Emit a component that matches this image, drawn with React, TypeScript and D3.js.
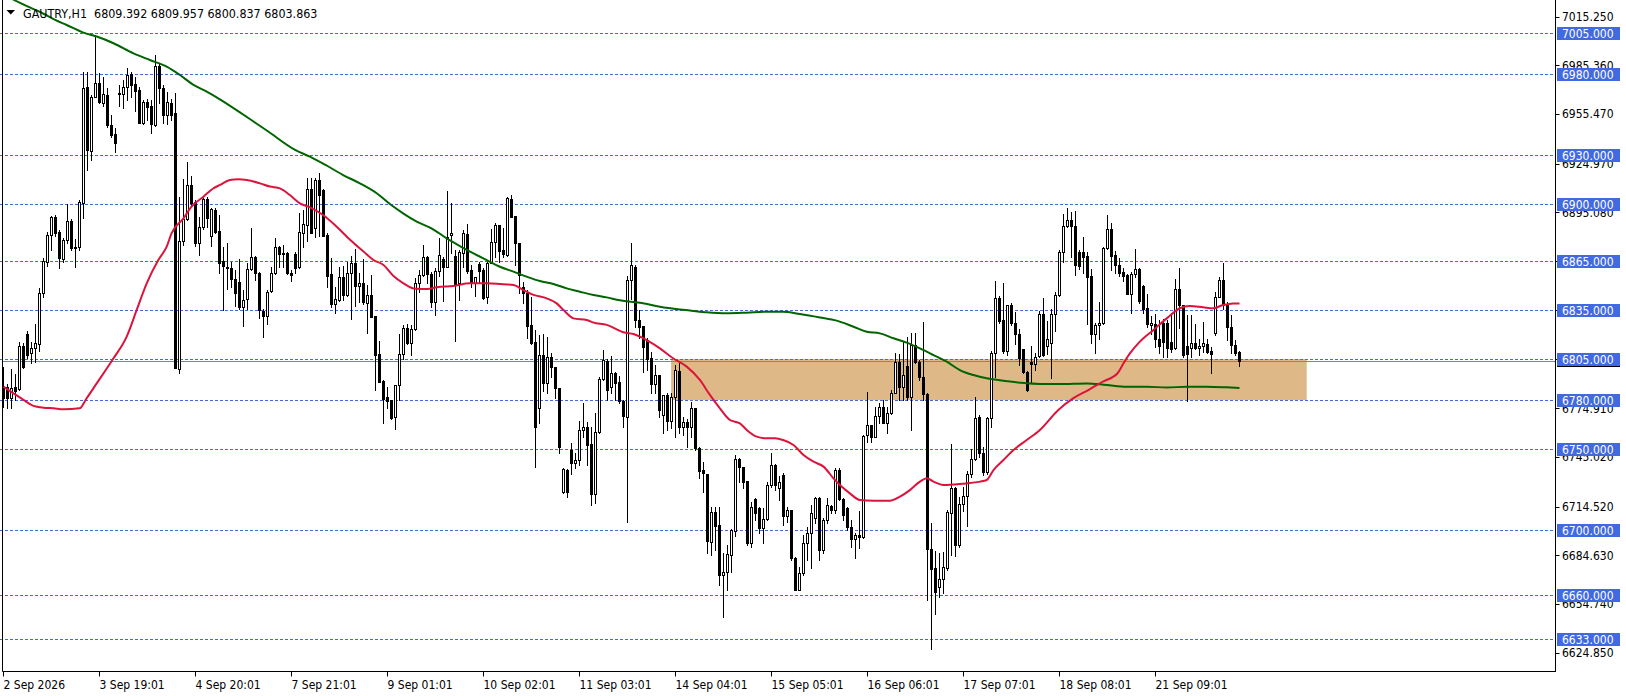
import React from 'react';
import * as d3 from 'd3';

// ---------- header ----------
const symbolTitle = 'GAUTRY,H1';
const headerValues = ['6809.392', '6809.957', '6800.837', '6803.863'];

// ---------- candles (H1) ----------
const openP = [
  6788.1, 6788.0, 6781.0, 6788.0, 6786.5, 6813.0, 6820.4, 6808.6, 6811.6, 6814.3,
  6845.8, 6864.8, 6881.2, 6892.5, 6883.0, 6866.3, 6878.1, 6889.6, 6874.0, 6873.6,
  6901.1, 6972.3, 6933.0, 6966.1, 6974.7, 6962.4, 6967.1, 6948.7, 6943.2, 6968.6,
  6967.8, 6972.3, 6980.0, 6973.9, 6970.2, 6950.2, 6963.1, 6960.4, 6948.7, 6985.0,
  6971.2, 6954.9, 6962.0, 6955.9, 6798.7, 6877.5, 6890.8, 6911.9, 6901.7, 6876.1,
  6885.9, 6903.1, 6880.6, 6896.5, 6883.8, 6865.0, 6861.4, 6860.7, 6854.0, 6852.3,
  6836.8, 6841.7, 6860.1, 6867.9, 6858.1, 6834.5, 6831.5, 6846.6, 6857.6, 6873.6,
  6869.3, 6870.3, 6858.1, 6869.5, 6861.3, 6882.2, 6887.3, 6909.2, 6885.3, 6914.9,
  6908.8, 6881.2, 6857.2, 6838.8, 6841.3, 6855.2, 6844.4, 6858.1, 6864.2, 6849.9,
  6851.5, 6839.6, 6844.4, 6831.5, 6808.1, 6791.7, 6781.5, 6779.9, 6769.2, 6789.1,
  6808.1, 6823.9, 6814.7, 6823.3, 6851.5, 6856.6, 6867.9, 6857.2, 6840.3, 6859.3,
  6866.2, 6861.8, 6881.2, 6868.3, 6851.5, 6869.9, 6881.8, 6859.7, 6851.5, 6863.4,
  6859.7, 6842.9, 6864.2, 6877.1, 6887.3, 6872.0, 6868.9, 6903.1, 6892.8, 6876.5,
  6849.1, 6845.8, 6826.0, 6815.7, 6774.8, 6807.5, 6790.1, 6806.5, 6799.9, 6787.1,
  6723.6, 6736.9, 6749.2, 6741.4, 6743.1, 6761.5, 6763.1, 6752.9, 6722.2, 6760.4,
  6792.6, 6804.0, 6788.1, 6796.7, 6791.1, 6779.5, 6769.7, 6853.6, 6861.7, 6829.0,
  6825.3, 6816.7, 6805.5, 6789.7, 6795.2, 6770.7, 6783.0, 6767.2, 6781.5, 6797.9,
  6763.5, 6766.6, 6763.1, 6774.8, 6750.2, 6736.9, 6734.5, 6693.0, 6711.3, 6703.1,
  6672.4, 6674.5, 6684.7, 6699.7, 6743.5, 6738.9, 6730.4, 6692.3, 6718.9, 6713.4,
  6701.1, 6706.8, 6727.7, 6740.0, 6725.7, 6733.8, 6708.7, 6712.4, 6682.7, 6663.3,
  6673.5, 6692.3, 6698.0, 6707.2, 6719.5, 6687.8, 6706.2, 6714.8, 6712.4, 6736.9,
  6718.9, 6713.4, 6702.1, 6694.4, 6697.0, 6695.6, 6758.4, 6764.5, 6757.4, 6770.1,
  6775.8, 6766.0, 6771.7, 6784.4, 6803.4, 6788.1, 6800.8, 6781.5, 6813.7, 6803.4,
  6793.8, 6783.6, 6688.2, 6676.6, 6665.3, 6669.8, 6676.6, 6710.3, 6725.7, 6690.9,
  6716.1, 6721.0, 6734.5, 6743.5, 6769.3, 6747.6, 6735.9, 6768.6, 6808.9, 6842.3,
  6829.0, 6810.2, 6838.2, 6827.0, 6820.4, 6811.0, 6797.3, 6803.4, 6802.0, 6806.9,
  6832.7, 6813.0, 6815.1, 6832.7, 6844.3, 6871.0, 6886.7, 6890.4, 6886.7, 6870.9,
  6870.9, 6868.3, 6856.0, 6820.4, 6826.0, 6827.0, 6873.0, 6884.7, 6868.9, 6862.7,
  6858.7, 6856.6, 6845.0, 6857.2, 6860.1, 6849.9, 6836.2, 6826.0, 6826.5, 6817.1,
  6827.0, 6827.0, 6815.7, 6811.6, 6847.8, 6838.2, 6813.0, 6811.6, 6814.7, 6811.6,
  6813.0, 6814.3, 6810.2, 6820.8, 6842.9, 6853.6, 6838.2, 6824.5, 6813.6, 6809.392,
];
const highP = [
  6800.4, 6790.0, 6799.0, 6796.0, 6815.7, 6815.0, 6822.5, 6815.7, 6826.6, 6848.5,
  6866.9, 6882.8, 6892.9, 6893.5, 6884.3, 6879.2, 6900.0, 6890.8, 6878.5, 6902.7,
  6981.0, 6981.0, 6967.1, 7004.0, 6980.4, 6978.4, 6971.2, 6954.9, 6946.7, 6973.3,
  6976.4, 6983.5, 6981.5, 6978.0, 6972.3, 6964.1, 6964.5, 6964.1, 6991.7, 6987.0,
  6973.3, 6969.2, 6964.5, 6968.6, 6904.7, 6915.4, 6926.2, 6917.4, 6902.7, 6892.5,
  6904.7, 6904.7, 6897.6, 6897.6, 6893.5, 6874.0, 6876.5, 6864.8, 6859.7, 6866.2,
  6847.4, 6863.8, 6885.3, 6868.3, 6858.7, 6835.5, 6847.4, 6861.7, 6879.1, 6874.4,
  6875.0, 6870.9, 6859.7, 6870.9, 6894.5, 6896.5, 6916.0, 6916.0, 6916.0, 6919.4,
  6909.2, 6882.2, 6866.9, 6849.5, 6861.7, 6862.2, 6864.8, 6868.3, 6872.4, 6858.1,
  6866.2, 6850.5, 6856.6, 6831.5, 6816.3, 6792.1, 6788.1, 6779.9, 6789.1, 6820.4,
  6825.9, 6826.5, 6825.9, 6854.6, 6859.7, 6875.0, 6868.3, 6858.7, 6860.7, 6879.1,
  6867.5, 6908.4, 6900.6, 6872.0, 6872.0, 6884.3, 6887.9, 6862.8, 6855.6, 6864.8,
  6860.7, 6864.8, 6884.7, 6888.8, 6887.3, 6885.3, 6904.3, 6905.7, 6892.8, 6876.5,
  6852.5, 6847.4, 6843.3, 6822.9, 6819.8, 6820.4, 6818.8, 6808.9, 6800.4, 6787.1,
  6737.9, 6737.3, 6753.3, 6747.5, 6767.2, 6777.8, 6766.6, 6763.5, 6771.7, 6793.8,
  6810.6, 6804.9, 6806.9, 6797.3, 6794.6, 6779.9, 6856.0, 6876.5, 6862.8, 6835.1,
  6825.3, 6817.7, 6809.6, 6801.4, 6795.2, 6783.0, 6784.0, 6784.0, 6801.4, 6803.4,
  6769.7, 6768.0, 6778.9, 6774.8, 6751.2, 6742.0, 6734.5, 6714.0, 6714.4, 6714.4,
  6685.8, 6690.9, 6700.5, 6746.1, 6744.1, 6738.9, 6730.4, 6717.5, 6719.5, 6714.4,
  6713.4, 6729.8, 6747.6, 6740.6, 6733.2, 6734.9, 6714.4, 6712.4, 6683.7, 6677.6,
  6697.0, 6702.1, 6715.4, 6720.1, 6720.1, 6707.2, 6719.5, 6715.4, 6737.9, 6737.9,
  6719.5, 6714.4, 6706.2, 6698.0, 6711.9, 6758.4, 6785.0, 6764.5, 6775.8, 6777.8,
  6779.9, 6775.8, 6786.0, 6808.5, 6808.1, 6815.7, 6818.8, 6820.8, 6820.8, 6804.4,
  6828.0, 6784.0, 6704.2, 6687.4, 6685.8, 6686.8, 6712.4, 6752.9, 6726.3, 6720.6,
  6726.7, 6736.5, 6749.6, 6781.9, 6770.7, 6751.2, 6769.7, 6810.0, 6853.1, 6843.7,
  6851.5, 6838.2, 6839.2, 6834.1, 6823.3, 6811.0, 6797.9, 6813.0, 6809.0, 6834.7,
  6842.3, 6828.6, 6835.6, 6846.4, 6872.0, 6894.1, 6897.6, 6895.5, 6896.1, 6872.0,
  6880.2, 6871.0, 6860.1, 6827.0, 6840.3, 6874.0, 6893.5, 6888.7, 6871.6, 6866.9,
  6860.7, 6857.2, 6858.7, 6872.4, 6860.7, 6850.5, 6845.0, 6831.5, 6832.7, 6829.0,
  6829.4, 6829.0, 6832.1, 6854.0, 6860.7, 6838.2, 6832.1, 6832.1, 6826.5, 6817.1,
  6828.0, 6817.1, 6812.6, 6846.4, 6855.2, 6864.2, 6840.0, 6832.1, 6816.7, 6809.957,
];
const lowP = [
  6775.8, 6775.0, 6775.0, 6780.0, 6786.0, 6799.4, 6805.5, 6802.8, 6803.4, 6810.0,
  6843.3, 6862.2, 6872.0, 6880.6, 6860.7, 6864.8, 6876.5, 6872.0, 6861.8, 6872.0,
  6891.4, 6921.1, 6927.2, 6965.7, 6962.4, 6960.4, 6947.7, 6941.6, 6932.4, 6960.4,
  6959.0, 6964.1, 6965.7, 6957.5, 6950.2, 6949.3, 6951.8, 6944.0, 6948.1, 6962.4,
  6949.8, 6949.3, 6951.8, 6799.4, 6796.7, 6875.1, 6890.5, 6899.5, 6874.5, 6868.9,
  6884.7, 6886.3, 6874.5, 6882.2, 6858.1, 6835.1, 6847.8, 6849.5, 6837.6, 6835.6,
  6825.3, 6835.6, 6859.7, 6853.6, 6830.0, 6818.8, 6826.6, 6846.4, 6857.2, 6861.7,
  6861.7, 6857.2, 6853.1, 6857.6, 6860.7, 6873.6, 6877.7, 6882.2, 6879.7, 6880.6,
  6880.6, 6849.1, 6837.2, 6833.5, 6840.9, 6841.3, 6843.8, 6829.4, 6837.6, 6840.3,
  6838.8, 6820.8, 6830.6, 6786.0, 6791.1, 6766.0, 6774.8, 6768.0, 6761.9, 6779.9,
  6804.9, 6814.3, 6807.5, 6822.9, 6846.4, 6856.0, 6851.5, 6837.2, 6832.1, 6856.0,
  6840.9, 6861.3, 6869.9, 6816.3, 6841.3, 6861.7, 6857.6, 6849.5, 6843.8, 6852.5,
  6841.7, 6839.2, 6863.8, 6867.9, 6864.8, 6867.5, 6868.3, 6892.4, 6862.8, 6845.4,
  6839.2, 6817.7, 6814.3, 6738.9, 6766.0, 6785.6, 6784.0, 6793.8, 6780.9, 6747.5,
  6723.0, 6720.6, 6734.5, 6737.9, 6740.0, 6757.4, 6740.0, 6715.4, 6716.5, 6759.4,
  6792.2, 6779.9, 6784.4, 6779.9, 6777.8, 6763.5, 6705.2, 6841.7, 6824.9, 6817.7,
  6797.3, 6798.3, 6784.0, 6784.0, 6769.7, 6759.4, 6761.5, 6762.5, 6757.0, 6759.8,
  6758.4, 6751.2, 6757.4, 6749.2, 6731.8, 6723.6, 6685.8, 6684.7, 6687.8, 6666.3,
  6646.9, 6663.3, 6674.5, 6696.4, 6729.8, 6725.7, 6690.9, 6689.9, 6706.2, 6698.0,
  6691.9, 6706.2, 6726.7, 6724.6, 6718.5, 6703.1, 6705.2, 6681.7, 6663.3, 6663.3,
  6672.4, 6681.7, 6676.6, 6704.2, 6681.7, 6685.8, 6704.2, 6710.3, 6710.3, 6718.5,
  6706.2, 6700.1, 6689.9, 6682.7, 6688.8, 6695.0, 6754.3, 6754.3, 6757.0, 6765.6,
  6766.0, 6759.8, 6771.3, 6784.0, 6779.9, 6779.9, 6779.9, 6761.5, 6802.4, 6792.2,
  6779.9, 6657.1, 6626.8, 6648.5, 6659.2, 6661.2, 6675.5, 6684.7, 6684.1, 6689.9,
  6712.0, 6702.5, 6732.4, 6743.1, 6745.1, 6733.9, 6734.5, 6763.1, 6794.2, 6827.0,
  6808.5, 6807.5, 6825.9, 6814.3, 6801.4, 6796.7, 6785.6, 6790.1, 6798.3, 6806.5,
  6806.9, 6808.1, 6793.2, 6822.5, 6843.7, 6864.8, 6886.3, 6867.9, 6856.6, 6860.1,
  6858.1, 6826.5, 6814.7, 6808.9, 6817.1, 6826.5, 6872.4, 6859.7, 6857.6, 6856.0,
  6853.1, 6845.0, 6833.1, 6855.2, 6839.2, 6833.5, 6824.9, 6820.4, 6812.2, 6808.9,
  6806.5, 6806.1, 6809.6, 6811.0, 6824.0, 6806.5, 6779.0, 6806.5, 6811.0, 6807.5,
  6809.6, 6809.0, 6796.7, 6819.8, 6842.9, 6836.0, 6816.7, 6808.5, 6807.5, 6800.837,
];
const closeP = [
  6780.9, 6781.0, 6787.5, 6785.6, 6813.0, 6800.4, 6807.5, 6811.6, 6814.7, 6845.8,
  6865.4, 6881.2, 6892.5, 6882.2, 6866.9, 6878.1, 6889.6, 6873.2, 6873.2, 6901.7,
  6971.6, 6933.4, 6965.7, 6974.3, 6963.1, 6967.8, 6948.7, 6942.6, 6937.5, 6967.8,
  6971.9, 6979.4, 6973.3, 6969.8, 6950.2, 6963.1, 6960.0, 6949.3, 6985.0, 6971.2,
  6954.9, 6963.1, 6954.9, 6799.4, 6877.5, 6890.8, 6911.9, 6901.1, 6876.1, 6885.9,
  6903.1, 6891.4, 6897.0, 6883.2, 6863.8, 6862.0, 6861.0, 6854.0, 6845.8, 6837.2,
  6841.3, 6860.3, 6867.9, 6857.6, 6835.1, 6831.5, 6846.4, 6857.6, 6874.0, 6869.5,
  6870.3, 6858.1, 6856.4, 6860.7, 6883.2, 6887.9, 6909.2, 6882.6, 6914.9, 6905.7,
  6880.6, 6856.0, 6838.8, 6841.7, 6855.2, 6844.4, 6858.1, 6864.2, 6849.9, 6851.5,
  6840.3, 6844.4, 6831.0, 6807.5, 6791.1, 6780.3, 6779.5, 6768.6, 6789.1, 6808.1,
  6823.9, 6814.7, 6823.3, 6851.5, 6856.6, 6867.9, 6857.2, 6840.3, 6859.3, 6868.9,
  6861.8, 6880.2, 6882.6, 6850.5, 6870.9, 6882.2, 6859.3, 6851.5, 6855.2, 6859.3,
  6842.3, 6863.8, 6877.1, 6887.3, 6871.6, 6869.5, 6903.7, 6892.4, 6876.1, 6856.6,
  6845.8, 6825.3, 6815.1, 6763.5, 6807.5, 6790.1, 6806.5, 6799.9, 6787.1, 6751.2,
  6737.3, 6723.6, 6741.4, 6743.1, 6761.5, 6763.5, 6752.3, 6722.2, 6760.4, 6792.6,
  6804.4, 6786.0, 6796.3, 6790.1, 6779.5, 6770.1, 6853.6, 6862.8, 6829.0, 6824.9,
  6812.2, 6804.9, 6789.7, 6795.2, 6773.8, 6783.0, 6767.2, 6781.9, 6798.3, 6763.5,
  6766.6, 6763.1, 6774.8, 6750.2, 6736.5, 6734.9, 6693.5, 6711.3, 6702.5, 6672.4,
  6674.5, 6685.4, 6700.1, 6743.5, 6738.6, 6729.8, 6692.3, 6714.4, 6710.3, 6701.1,
  6706.6, 6727.7, 6740.0, 6727.7, 6729.8, 6708.7, 6712.4, 6682.7, 6663.3, 6673.5,
  6692.3, 6698.0, 6710.3, 6719.5, 6687.8, 6706.2, 6715.4, 6712.4, 6736.9, 6718.9,
  6709.3, 6702.1, 6694.4, 6697.0, 6695.6, 6757.8, 6764.5, 6757.4, 6770.1, 6775.8,
  6766.0, 6771.7, 6784.4, 6803.4, 6788.1, 6795.2, 6781.5, 6813.7, 6803.4, 6793.8,
  6783.6, 6688.2, 6675.9, 6662.3, 6669.8, 6677.6, 6711.3, 6725.7, 6690.9, 6716.1,
  6721.0, 6734.5, 6743.5, 6768.6, 6747.1, 6735.9, 6768.6, 6808.5, 6842.3, 6828.6,
  6810.2, 6838.2, 6827.0, 6820.4, 6805.5, 6797.3, 6786.0, 6802.0, 6806.5, 6832.7,
  6807.5, 6817.1, 6832.7, 6844.3, 6871.0, 6886.7, 6890.4, 6886.7, 6862.7, 6862.1,
  6867.9, 6855.2, 6820.4, 6826.0, 6827.0, 6873.0, 6884.7, 6868.3, 6862.7, 6858.1,
  6856.0, 6845.0, 6857.2, 6860.1, 6840.9, 6835.6, 6826.5, 6827.0, 6817.1, 6813.0,
  6815.7, 6811.6, 6811.0, 6847.8, 6838.2, 6807.5, 6808.1, 6815.1, 6811.6, 6813.0,
  6814.7, 6809.6, 6808.1, 6842.9, 6853.6, 6838.2, 6824.5, 6813.6, 6809.0, 6803.863,
];

// ---------- moving averages (bar index, price) ----------
const redMaBars = [
  0, 2.5, 5, 7.5, 10, 12.5, 15, 19, 20.8, 23.3, 27.5, 30.8, 33.3, 35.8, 38.7, 40.8, 42, 45, 47, 50,
  52.5, 54.1, 56.6, 58.7, 60.8, 64.1, 66.6, 69.1, 71.6, 74.1, 76.6, 79.9, 83.3, 86.7, 90, 92.5, 95,
  97.5, 100, 102.5, 106, 108.3, 112.5, 116.6, 120.8, 124.1, 127.5, 130, 132.5, 135.8, 138.3, 140,
  142.5, 145.8, 147.5, 150.8, 153.3, 155, 157.5, 160.8, 164.1, 167.4, 170.8, 174.1, 176.6, 179.1,
  181.6, 184.1, 185.8, 188.3, 190.8, 192.9, 194.9, 197.5, 200, 202.5, 205, 207.5, 209.1, 211.6,
  214.1, 217.5, 221.6, 224.1, 226.6, 229.1, 230.8, 232.5, 235, 237.5, 240.8, 244.1, 245.8, 247.5,
  250, 252.5, 255.8, 259.1, 263.7, 267.5, 271.2, 274.8, 278.5, 280, 281.6, 284.1, 287.5, 290.8,
  294.1, 296.6, 299.9, 302.4, 304.9, 307.4, 309,
];
const redMaValues = [
  6788.1, 6784, 6780, 6776.3, 6775.2, 6774.8, 6774.2, 6774.8, 6781, 6790.1, 6805.5, 6818.8, 6835.2,
  6851.5, 6865.9, 6874, 6882.2, 6891.4, 6898.6, 6904.7, 6909.9, 6911.9, 6915, 6915.4, 6915, 6912.9,
  6910.9, 6909.8, 6905.7, 6900.6, 6898.2, 6893.5, 6886.3, 6878.1, 6871, 6865.8, 6862.8, 6856,
  6851.5, 6848.4, 6848.0, 6849.1, 6849.9, 6851.5, 6851.5, 6851.1, 6850.5, 6847.4, 6844.4, 6842.3,
  6839.2, 6835.1, 6830, 6829, 6827.4, 6826, 6823.3, 6821.5, 6820.4, 6816.7, 6811.6, 6805.5, 6800.4,
  6792.2, 6783, 6774.8, 6767.6, 6765.6, 6761.5, 6757.4, 6756.4, 6756.4, 6755.3, 6752.3, 6746.1,
  6742, 6739, 6731.8, 6727.7, 6722.6, 6718.5, 6718.1, 6718.1, 6720.6, 6724.6, 6729.8, 6731.8,
  6729.8, 6727.7, 6728.1, 6728.7, 6729.8, 6730.8, 6736.9, 6743.1, 6749.2, 6755.3, 6761.5, 6773.8,
  6781, 6786, 6791.1, 6796.3, 6802.4, 6808.5, 6815.7, 6822.9, 6830, 6836.2, 6837.6, 6836.8, 6836.2,
  6838.2, 6839.2, 6839.2,
];
const greenMaBars = [
  0, 3, 10, 12.9, 15.8, 20, 23.3, 27.5, 32.5, 36.6, 40.8, 44.1, 47.5, 50.8, 54.1, 60, 66, 72.9,
  76.6, 80.5, 84.9, 89.1, 93.3, 96.6, 99.9, 103.3, 107.4, 110.8, 114.1, 117.5, 120.8, 124.1, 127.5,
  130.8, 134.1, 137.5, 140.8, 144.1, 147.5, 150.8, 154.1, 159.1, 164.1, 169.1, 172, 175.8, 180.8,
  185.8, 190.8, 194.9, 199.1, 204.1, 208.3, 212.5, 215.8, 219.1, 222.5, 225.8, 229.1, 232.5, 235.8,
  239.1, 242.5, 245.8, 249.1, 254.1, 259.1, 264.1, 270.8, 275.8, 280.8, 285.8, 290.8, 295.8, 300.8,
  305.8, 309,
];
const greenMaValues = [
  7029, 7025, 7017, 7013.2, 7010.1, 7005.4, 7003, 6998.9, 6992.7, 6988.6, 6984.5, 6979.4, 6973.3,
  6969.2, 6964.5, 6955, 6945, 6933.4, 6929.3, 6924.2, 6918, 6912.9, 6906.8, 6900.2, 6894.5, 6889.4,
  6884.7, 6879.1, 6874.4, 6869.9, 6865.8, 6861.7, 6858.7, 6855.6, 6852.9, 6851.1, 6848.4, 6846.4,
  6844.4, 6842.9, 6841.1, 6839.6, 6837.2, 6835.5, 6834.7, 6833.7, 6833.1, 6833.5, 6834.1, 6834.1,
  6832.7, 6830.6, 6828.6, 6824.9, 6821.8, 6820.8, 6817.8, 6815.1, 6811.6, 6807.5, 6803.4, 6798.3,
  6795.2, 6793.2, 6792, 6790.5, 6789.7, 6789.7, 6790.1, 6789.1, 6788.1, 6788.1, 6787.5, 6788.1,
  6788.1, 6787.7, 6787.3,
];

// ---------- levels / axis ----------
const levelPrices = [7005, 6980, 6930, 6900, 6865, 6835, 6805, 6780, 6750, 6700, 6660, 6633];
const axisTickPrices = [
  7015.25, 6985.36, 6955.47, 6924.97, 6895.08, 6865.19, 6835.3, 6804.8, 6774.91, 6745.02, 6714.52,
  6684.63, 6654.74, 6624.85,
];
const timeLabels = [
  '2 Sep 2026', '3 Sep 19:01', '4 Sep 20:01', '7 Sep 21:01', '9 Sep 01:01', '10 Sep 02:01',
  '11 Sep 03:01', '14 Sep 04:01', '15 Sep 05:01', '16 Sep 06:01', '17 Sep 07:01', '18 Sep 08:01',
  '21 Sep 09:01',
];
const timeLabelBars = [0, 24, 48, 72, 96, 120, 144, 168, 192, 216, 240, 264, 288];
const zoneHigh = 6805;
const zoneLow = 6780;
const zoneFromBar = 166.9;
const zoneToBar = 325.8;
const bidPrice = 6803.863;

const FONT = "'DejaVu Sans Condensed', 'DejaVu Sans', sans-serif";
const LEVEL_BLUE = '#4169E1';

export default function App() {
  const W = 1626;
  const H = 696;
  const plotRight = 1555.5;
  const plotBottom = 671.5;
  const plotLeft = 2.5;

  const x = d3.scaleLinear().domain([0, 309]).range([3.5, 1239.5]);
  const y = d3.scaleLinear().domain([6633, 7005]).range([639.3, 33.3]);

  const redPath = d3
    .line<number>()
    .x((_, k) => x(redMaBars[k]))
    .y((d) => y(d))
    .curve(d3.curveMonotoneX)(redMaValues);
  const greenPath = d3
    .line<number>()
    .x((_, k) => x(greenMaBars[k]))
    .y((d) => y(d))
    .curve(d3.curveMonotoneX)(greenMaValues);

  const snap = (v: number) => Math.round(v) + 0.5;

  return (
    <>
      <style>{'body{margin:0;}'}</style>
      <svg width={W} height={H} style={{ display: 'block', background: '#fff' }}>
        <defs>
          <clipPath id="plotClip">
            <rect x={plotLeft} y={0} width={plotRight - plotLeft} height={plotBottom} />
          </clipPath>
        </defs>
        <rect x={0} y={0} width={W} height={H} fill="#fff" />

        {/* zone */}
        <rect
          x={x(zoneFromBar)}
          y={Math.round(y(zoneHigh))}
          width={x(zoneToBar) - x(zoneFromBar)}
          height={Math.round(y(zoneLow)) - Math.round(y(zoneHigh))}
          fill="#DEB887"
        />

        {/* dashed levels */}
        {levelPrices.map((p) => (
          <line
            key={'lv' + p}
            x1={0}
            x2={plotRight}
            y1={snap(y(p))}
            y2={snap(y(p))}
            stroke={LEVEL_BLUE}
            strokeWidth={1}
            strokeDasharray="3,2"
          />
        ))}

        {/* bid line */}
        <line
          x1={plotLeft}
          x2={plotRight}
          y1={snap(y(bidPrice))}
          y2={snap(y(bidPrice))}
          stroke="#778899"
          strokeWidth={1}
        />

        {/* candles */}
        <g clipPath="url(#plotClip)">
          {openP.map((o, i) => {
            const c = closeP[i];
            const cx = x(i);
            const yh = Math.round(y(highP[i]));
            const yl = Math.round(y(lowP[i]));
            const yo = Math.round(y(o));
            const yc = Math.round(y(c));
            const top = Math.min(yo, yc);
            const bot = Math.max(yo, yc);
            const bull = c >= o;
            return (
              <g key={'c' + i}>
                <line x1={cx} x2={cx} y1={yh} y2={yl + 1} stroke="#000" strokeWidth={1} />
                {bot - top < 1 ? (
                  <line x1={cx - 1.5} x2={cx + 1.5} y1={top + 0.5} y2={top + 0.5} stroke="#000" />
                ) : (
                  <rect
                    x={cx - 1}
                    y={top + 0.5}
                    width={2}
                    height={bot - top}
                    fill={bull ? '#fff' : '#000'}
                    stroke="#000"
                    strokeWidth={1}
                  />
                )}
              </g>
            );
          })}
          <path d={greenPath || ''} fill="none" stroke="#006400" strokeWidth={2} />
          <path d={redPath || ''} fill="none" stroke="#DC143C" strokeWidth={2} />
        </g>

        {/* frame */}
        <line x1={plotLeft} x2={plotLeft} y1={0} y2={plotBottom} stroke="#000" />
        <line x1={plotRight} x2={plotRight} y1={0} y2={plotBottom + 0.5} stroke="#000" />
        <line x1={plotLeft} x2={plotRight} y1={plotBottom} y2={plotBottom} stroke="#000" />

        {/* price axis ticks & labels */}
        {axisTickPrices.map((p) => (
          <g key={'at' + p}>
            <line x1={plotRight} x2={plotRight + 4} y1={snap(y(p))} y2={snap(y(p))} stroke="#000" />
            <text
              x={1562}
              y={y(p) + 4.5}
              fontFamily={FONT}
              fontSize={12}
              fill="#000"
              style={{ fontStretch: 'condensed' }}
            >
              {p.toFixed(3)}
            </text>
          </g>
        ))}

        {/* bid label (mostly hidden) */}
        <rect x={1557} y={Math.round(y(bidPrice)) - 6} width={63} height={12} fill="#000" />

        {/* level labels */}
        {levelPrices.map((p) => (
          <g key={'ll' + p}>
            <rect x={1557} y={Math.round(y(p)) - 6} width={63} height={13} fill={LEVEL_BLUE} />
            <text
              x={1562}
              y={y(p) + 5}
              fontFamily={FONT}
              fontSize={12}
              fill="#fff"
              style={{ fontStretch: 'condensed' }}
            >
              {p.toFixed(3)}
            </text>
          </g>
        ))}

        {/* time axis */}
        {timeLabelBars.map((b, k) => (
          <g key={'tl' + b}>
            <line x1={x(b)} x2={x(b)} y1={plotBottom} y2={plotBottom + 5} stroke="#000" />
            <text
              x={x(b)}
              y={689}
              fontFamily={FONT}
              fontSize={12}
              fill="#000"
              style={{ fontStretch: 'condensed' }}
            >
              {timeLabels[k]}
            </text>
          </g>
        ))}

        {/* header */}
        <polygon points="6.5,10 15,10 10.75,14.5" fill="#000" />
        <text
          x={23}
          y={17.5}
          fontFamily={FONT}
          fontSize={12.4}
          fill="#000"
          style={{ fontStretch: 'condensed', whiteSpace: 'pre' }}
        >
          {symbolTitle + '  ' + headerValues.join(' ')}
        </text>
      </svg>
    </>
  );
}
